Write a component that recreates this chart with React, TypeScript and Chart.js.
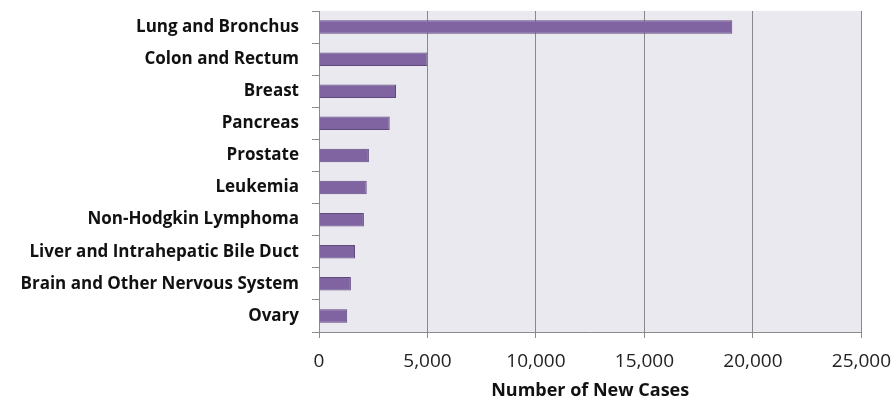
import React, { useEffect, useRef } from "react";
import { Chart, registerables } from "chart.js";

Chart.register(...registerables);

const categories = [
  "Lung and Bronchus",
  "Colon and Rectum",
  "Breast",
  "Pancreas",
  "Prostate",
  "Leukemia",
  "Non-Hodgkin Lymphoma",
  "Liver and Intrahepatic Bile Duct",
  "Brain and Other Nervous System",
  "Ovary",
];
const newCases = [19050, 5000, 3550, 3260, 2300, 2200, 2070, 1660, 1470, 1300];
const xTicks = [0, 5000, 10000, 15000, 20000, 25000];
const xTitle = "Number of New Cases";

const FONT = "'Open Sans', 'Noto Sans', sans-serif";

const plotBg = {
  id: "plotBg",
  beforeDraw(chart: any) {
    const { ctx, chartArea } = chart;
    ctx.save();
    ctx.fillStyle = "#EBE9F0";
    ctx.fillRect(chartArea.left, chartArea.top, chartArea.right - chartArea.left, chartArea.bottom - chartArea.top);
    ctx.restore();
  },
};

export default function App() {
  const ref = useRef<HTMLCanvasElement | null>(null);
  useEffect(() => {
    if (!ref.current) return;
    const chart = new Chart(ref.current, {
      type: "bar",
      data: {
        labels: categories,
        datasets: [
          {
            data: newCases,
            backgroundColor: "#8064A2",
            borderColor: "#5E4A7D",
            borderWidth: 1,
            barPercentage: 0.84,
            categoryPercentage: 0.5,
          },
        ],
      },
      plugins: [plotBg],
      options: {
        indexAxis: "y",
        animation: false,
        responsive: false,
        maintainAspectRatio: false,
        layout: { padding: { top: 0, left: 0, right: 0, bottom: 0 } },
        plugins: { legend: { display: false }, tooltip: { enabled: false } },
        scales: {
          x: {
            min: 0,
            max: 25000,
            afterBuildTicks: (scale: any) => {
              scale.ticks = xTicks.map((v) => ({ value: v }));
            },
            afterFit: (scale: any) => {
              scale.height = 68;
            },
            grid: {
              color: "#8A8A8A",
              lineWidth: 1,
              tickLength: 6,
              drawOnChartArea: true,
            },
            border: { display: true, color: "#8A8A8A" },
            ticks: {
              color: "#222",
              padding: 12,
              font: { family: FONT, size: 19 },
              callback: (v: any) => Number(v).toLocaleString("en-US"),
            },
            title: {
              display: true,
              text: xTitle,
              color: "#111",
              font: { family: FONT, size: 18, weight: "bold", lineHeight: 1 },
              padding: { top: 0, bottom: 0 },
            },
          },
          y: {
            afterFit: (scale: any) => {
              scale.width = 319;
              scale.paddingTop = 11;
              scale.paddingBottom = 0;
            },
            grid: {
              display: true,
              drawOnChartArea: false,
              color: "#8A8A8A",
              tickLength: 7,
              offset: true,
            },
            border: { display: true, color: "#8A8A8A" },
            ticks: {
              color: "#111",
              padding: 13,
              font: { family: FONT, size: 17, weight: "bold" },
            },
          },
        },
      },
    });
    return () => chart.destroy();
  }, []);
  return (
    <div style={{ position: "absolute", left: 0, top: 0, width: 893, height: 400, overflow: "hidden", background: "#fff" }}>
      <canvas ref={ref} width={903} height={400} style={{ display: "block" }} />
    </div>
  );
}
